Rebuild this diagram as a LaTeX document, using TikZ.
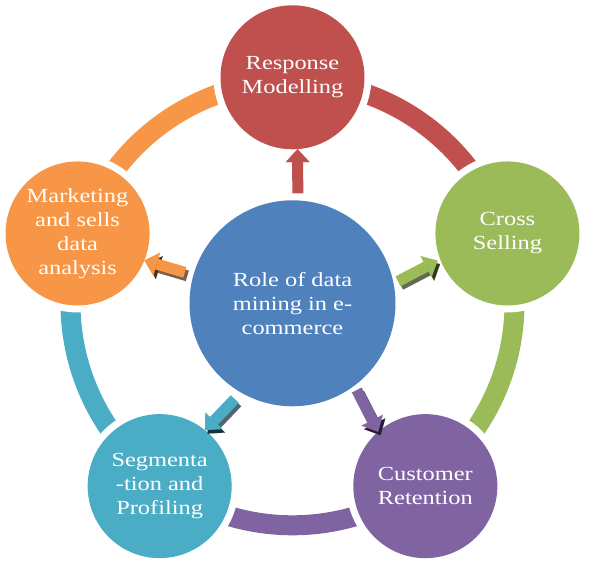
\documentclass[tikz,border=0pt]{standalone}
\usepackage{fontspec}
\setmainfont{Liberation Serif}[FakeStretch=1.22]
\usetikzlibrary{arrows.meta,calc}
\definecolor{cBlue}{HTML}{4F81BD}
\definecolor{cRed}{HTML}{C0504D}
\definecolor{cGreen}{HTML}{9BBB59}
\definecolor{cPurple}{HTML}{8064A2}
\definecolor{cTeal}{HTML}{4BACC6}
\definecolor{cOrange}{HTML}{F79646}
\begin{document}
\begin{tikzpicture}[x=1pt,y=1pt,
  bubble/.style={circle, fill=#1, text=white, inner sep=0pt, outer sep=0pt,
    minimum size=144pt, align=center, font=\fontsize{20}{24}\selectfont,
    preaction={draw=white, line width=14pt}},
  band/.style={draw=#1, line width=20pt},
  spoketip/.style={-{Triangle[width=24pt,length=13pt,line width=0.1pt]}},
  spoke/.style={draw=#1, line width=11pt, spoketip},
  spokeshadow/.style={draw=#1!30!black, draw opacity=0.75, line width=11pt, spoketip,
    transform canvas={shift={(2.5pt,-3.5pt)}}}]
\useasboundingbox (0,0) rectangle (589,563);
\coordinate (C) at (292.5,259.7);
% ring bands
\draw[band=cRed]    ([shift={(90:222)}]C)   arc[start angle=90,   end angle=18,   radius=222];
\draw[band=cGreen]  ([shift={(18:222)}]C)   arc[start angle=18,   end angle=-54,  radius=222];
\draw[band=cPurple] ([shift={(-54:222)}]C)  arc[start angle=-54,  end angle=-126, radius=222];
\draw[band=cTeal]   ([shift={(-126:222)}]C) arc[start angle=-126, end angle=-198, radius=222];
\draw[band=cOrange] ([shift={(162:222)}]C)  arc[start angle=162,  end angle=90,   radius=222];
% circles
\node[bubble=cBlue, minimum size=206pt] (hub) at (C) {Role of data\\mining in e-\\commerce};
\node[bubble=cRed]    (resp) at ($(C)+(90:226)$)   {Response\\Modelling};
\node[bubble=cGreen]  (cs)   at ($(C)+(18:226)$)   {Cross\\Selling};
\node[bubble=cPurple] (cr)   at ($(C)+(-54:226)$)  {Customer\\Retention};
\node[bubble=cTeal]   (seg)  at ($(C)+(-126:226)$) {Segmenta\\-tion and\\Profiling};
\node[bubble=cOrange] (mkt)  at ($(C)+(162:226)$)  {Marketing\\and sells\\data\\analysis};
% spokes
\draw[spoke=cRed, shorten <=7pt] (hub.87) -- (resp.-86);
\draw[spokeshadow=cGreen, shorten <=5pt, shorten >=3pt] (hub.11) -- (cs.201);
\draw[spoke=cGreen, shorten <=5pt, shorten >=3pt] (hub.11) -- (cs.201);
\draw[spokeshadow=cOrange, shorten <=9pt] (hub.164) -- (mkt.-22);
\draw[spoke=cOrange, shorten <=9pt] (hub.164) -- (mkt.-22);
\draw[spokeshadow=cTeal, shorten <=9pt] (hub.240) -- (seg.51);
\draw[spoke=cTeal, shorten <=9pt] (hub.240) -- (seg.51);
\draw[spokeshadow=cPurple, shorten <=5pt] (hub.-53) -- (cr.131);
\draw[spoke=cPurple, shorten <=5pt] (hub.-53) -- (cr.131);
\end{tikzpicture}
\end{document}
